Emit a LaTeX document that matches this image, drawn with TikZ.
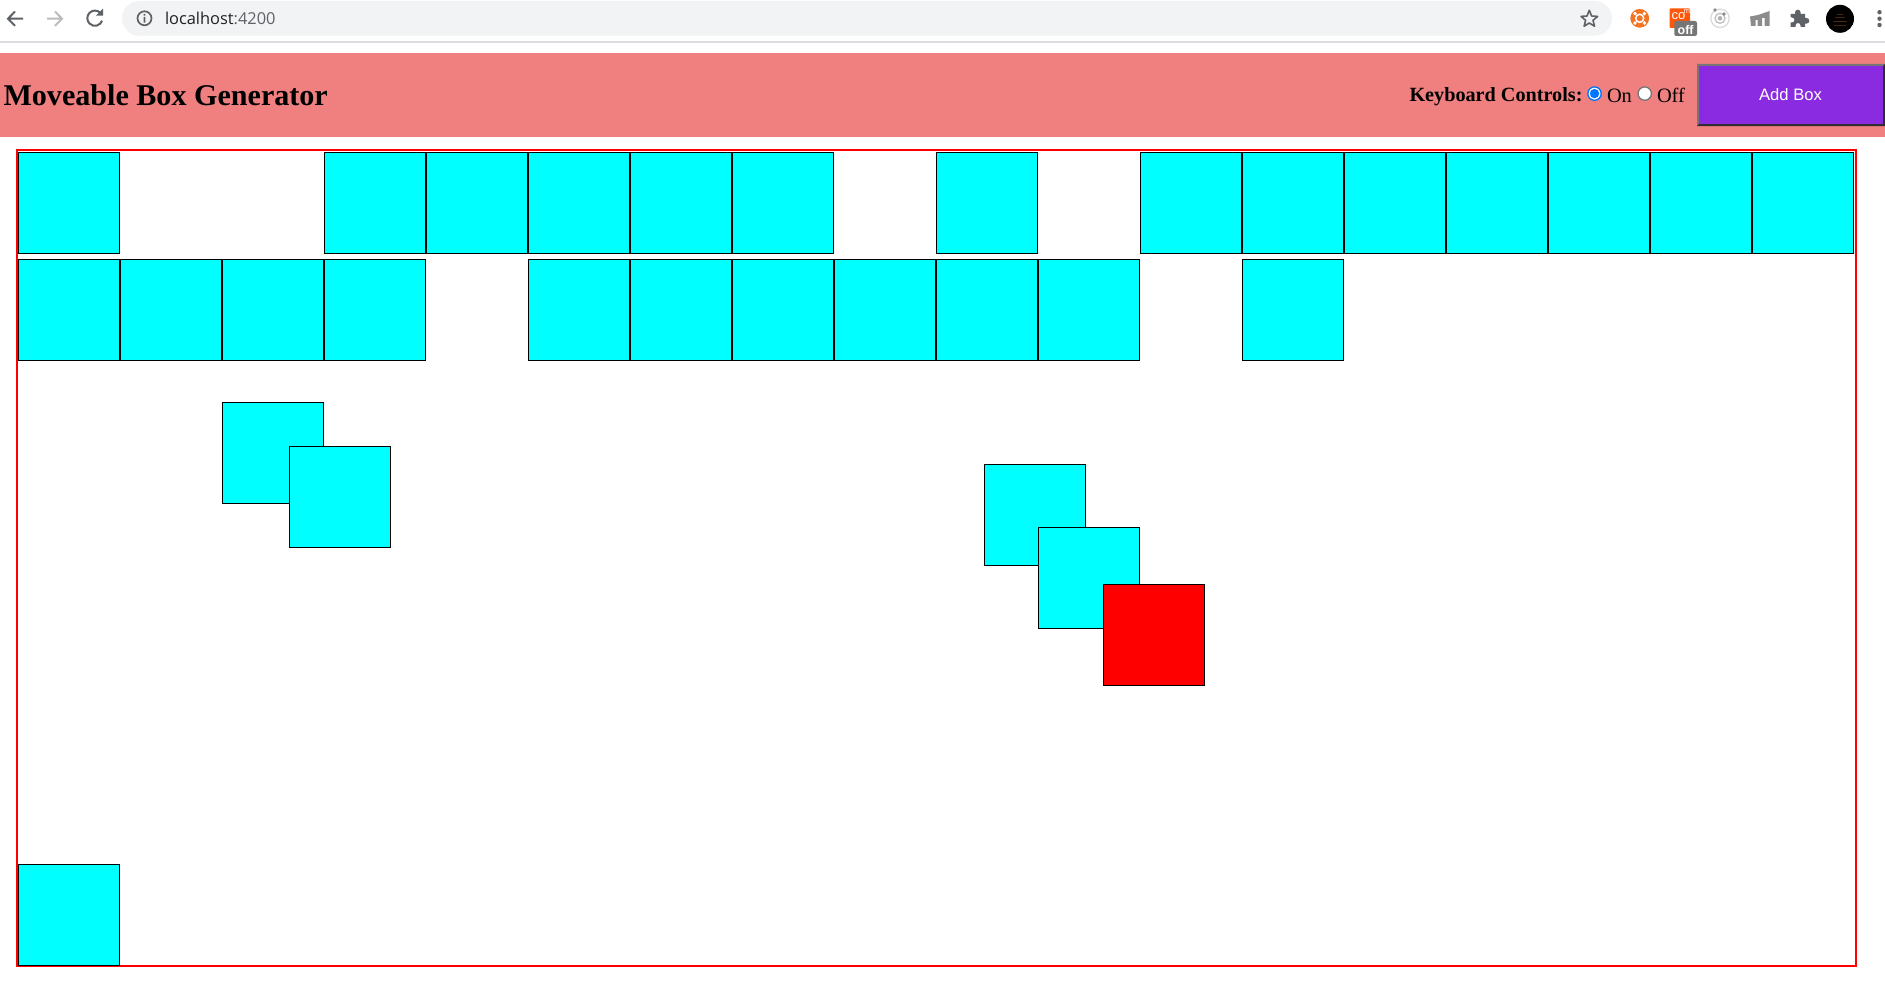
\documentclass[tikz,border=0pt]{standalone}
\usepackage{fontspec}
\setmainfont{Liberation Serif}
\newfontfamily\arialf{Liberation Sans}
\newfontfamily\uif{Open Sans}
\definecolor{hdr}{RGB}{240,128,128}
\definecolor{barfill}{RGB}{241,243,244}
\definecolor{sepline}{RGB}{218,220,224}
\definecolor{iconG}{RGB}{95,99,104}
\definecolor{iconL}{RGB}{186,188,190}
\definecolor{violetbtn}{RGB}{138,43,226}
\definecolor{radioblue}{RGB}{0,117,255}
\definecolor{radiogray}{RGB}{118,118,118}
\definecolor{aqua}{RGB}{0,255,255}
\definecolor{extorange}{RGB}{244,116,33}
\definecolor{comorange}{RGB}{255,87,10}
\definecolor{txtdark}{RGB}{32,33,36}
\newcommand{\fs}[1]{\fontsize{#1}{#1}\selectfont}
\tikzset{
  movebox/.style={draw=black,line width=1.2pt,fill=aqua,inner sep=0pt,minimum size=100.8pt,anchor=north west,rectangle},
  activebox/.style={movebox,fill=red},
  label/.style={inner sep=0pt,outer sep=0pt,anchor=base west,text=black},
  radio/.style={circle,inner sep=0pt,minimum size=13.4pt,fill=white,line width=1.3pt},
}
\begin{document}
\begin{tikzpicture}[x=1pt,y=-1pt]
\useasboundingbox (0,0) rectangle (1885,982);
\fill[white] (0,0) rectangle (1885,982);

% browser chrome
\fill[sepline] (0,41.2) rectangle (1885,43);
\fill[barfill,rounded corners=17.3pt] (122,1) rectangle (1612,35.7);

% back / forward / reload
\draw[iconG,line width=2pt,line join=miter] (23,18.7) -- (8.5,18.7) (15,11.5) -- (8,18.7) -- (15,25.8);
\draw[iconL,line width=2pt] (62,18.7) -- (47,18.7) (55,11.5) -- (62,18.7) -- (55,25.8);
\draw[iconG,line width=2pt] (100.3,12.8) arc[start angle=-45,end angle=-340,radius=7.6];
\fill[iconG] (103,8.5) -- (103,15.7) -- (96,15.7) -- cycle;

% site info icon and url
\draw[iconG,line width=1.7pt] (144.5,18.3) circle[radius=7];
\fill[iconG] (143.6,17) rectangle (145.4,22.7) (143.6,13.8) rectangle (145.4,15.6);
\node[label,text=txtdark] (urlhost) at (165,24.5) {\uif\fs{16.4}localhost};
\node[label,text=iconG] (urlport) at (urlhost.base east) {\uif\fs{16.4}:4200};

% star
\draw[iconG,line width=1.6pt,line join=round] (1589.3,10.3) -- (1591.6,16) -- (1597.7,16.4) -- (1593,20.3) -- (1594.5,26.2) -- (1589.3,23) -- (1584.1,26.2) -- (1585.6,20.3) -- (1581,16.4) -- (1587,16) -- cycle;

% extension 1
\fill[extorange] (1639.7,18.3) circle[radius=9.4];
\draw[white,line width=1.5pt] (1639.7,18.3) circle[radius=4];
\fill[white] (1635,13.6) circle[radius=1.9] (1644.4,13.6) circle[radius=1.9] (1635,23) circle[radius=1.9] (1644.4,23) circle[radius=1.9];

% extension 2
\fill[comorange,rounded corners=1pt] (1669.5,8.3) rectangle (1690,28);
\node[inner sep=0pt,text=white] (comco) at (1678.5,16.5) {\arialf\fs{13}co};
\node[inner sep=0pt,text=white] (comm) at (1687,11) {\arialf\fs{7.5}m};
\fill[radiogray,rounded corners=2pt] (1674.3,21) rectangle (1697,36);
\node[inner sep=0pt,text=white] (off) at (1685.6,29.6) {\arialf\bfseries\fs{12.5}off};

% extension 3
\draw[black!14,line width=1.3pt] (1720,18.3) circle[radius=9.2];
\draw[black!25,line width=1.3pt] (1720,18.3) circle[radius=5];
\fill[black!30] (1720,18.3) circle[radius=2.3];
\fill[black!45] (1715,10) circle[radius=1.8] (1724,14) circle[radius=1.8];

% extension 4
\fill[black!45] (1750,16.5) -- (1758,15) -- (1769.5,11) -- (1769.5,26) -- (1764.5,26) -- (1764.5,18) -- (1762,18) -- (1762,26) -- (1757.5,26) -- (1757.5,20) -- (1755.5,20) -- (1755.5,26) -- (1751,26) -- cycle;

% extensions puzzle
\fill[iconG] (1790.5,14) -- (1795,14) -- (1795,12.5) arc[start angle=180,end angle=360,radius=2.8] -- (1800.6,14) -- (1805,14) -- (1805,18) -- (1806.5,18) arc[start angle=-90,end angle=90,radius=2.8] -- (1805,23.6) -- (1805,27) -- (1800.5,27) -- (1800.5,25.5) arc[start angle=0,end angle=-180,radius=2.5] -- (1795.5,27) -- (1790.5,27) -- (1790.5,22.5) -- (1792,22.5) arc[start angle=90,end angle=-90,radius=2.5] -- (1790.5,17.5) -- cycle;

% avatar
\fill[black] (1840,18.8) circle[radius=14];
\draw[black!70!orange,line width=.6pt] (1833,21) -- (1847,21) (1835,17.5) -- (1845,17.5) (1837,14) -- (1843,14) (1834,25) -- (1846,25);

% menu dots
\fill[iconG] (1879.5,12.2) circle[radius=2.2] (1879.5,18.7) circle[radius=2.2] (1879.5,25) circle[radius=2.2];

% page header
\fill[hdr] (0,53) rectangle (1885,137);
\node[label] (title) at (3.5,105) {\fs{30.1}\bfseries Moveable Box Generator};
\node[label] (kbd) at (1409.5,101) {\fs{20.2}\bfseries Keyboard Controls:};
\node[radio,draw=radioblue] (radioOn) at (1594.5,93.6) {};
\fill[radioblue] (radioOn.center) circle[radius=4.7];
\node[label] (lblOn) at (1607,102.7) {\fs{20.4}On};
\node[radio,draw=radiogray] (radioOff) at (1644.7,93.6) {};
\node[label] (lblOff) at (1657,102.7) {\fs{20.4}Off};

% add box button
\fill[violetbtn] (1697,64) rectangle (1885,126);
\fill[radiogray] (1697,64) -- (1885,64) -- (1883,66) -- (1699,66) -- (1699,124) -- (1697,126) -- cycle;
\fill[black!82] (1697,126) -- (1885,126) -- (1885,64) -- (1883,66) -- (1883,124) -- (1699,124) -- cycle;
\node[inner sep=0pt,text=white] (addbox) at (1790.5,94.6) {\arialf\fs{16.6}Add Box};

% arena
\draw[red,line width=2.2pt] (17.1,150.1) rectangle (1855.6,966.1);

% boxes, first row
\foreach \i in {0,3,4,5,6,7,9,11,12,13,14,15,16,17}
  \node[movebox] (rowA\i) at ({18+102*\i},151.8) {};
% boxes, second row
\foreach \i in {0,1,2,3,5,6,7,8,9,10,12}
  \node[movebox] (rowB\i) at ({18+102*\i},259) {};

% loose boxes
\node[movebox] (looseA) at (222,402) {};
\node[movebox] (looseB) at (289,446) {};
\node[movebox] (looseC) at (984,464) {};
\node[movebox] (looseD) at (1038,527) {};
\node[activebox] (current) at (1103,584) {};
\node[movebox] (looseE) at (18,864) {};
\end{tikzpicture}
\end{document}
